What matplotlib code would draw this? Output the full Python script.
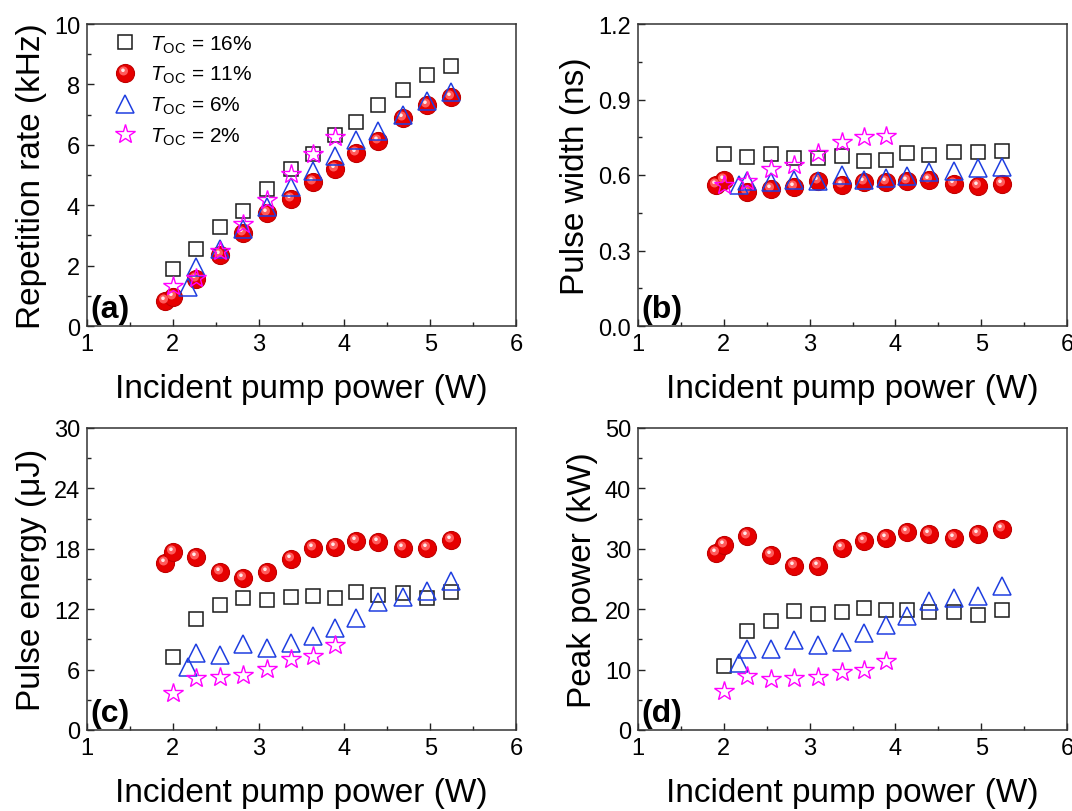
import numpy as np
import matplotlib
matplotlib.use("Agg")
import matplotlib.pyplot as plt
from matplotlib.path import Path
from matplotlib.legend_handler import HandlerTuple
from matplotlib.ticker import MultipleLocator, FormatStrFormatter

plt.rcParams['font.family'] = ['Liberation Sans', 'DejaVu Sans']
plt.rcParams['mathtext.fontset'] = 'custom'
plt.rcParams['mathtext.rm'] = 'Liberation Sans'
plt.rcParams['mathtext.it'] = 'Liberation Sans:italic'

# ---------------- data ----------------
x_16 = [2.00, 2.27, 2.55, 2.82, 3.10, 3.38, 3.63, 3.89, 4.13, 4.39, 4.68, 4.96, 5.24]
x_11 = [1.91, 2.00, 2.27, 2.55, 2.82, 3.10, 3.38, 3.63, 3.89, 4.13, 4.39, 4.68, 4.96, 5.24]
x_6 = [2.18, 2.27, 2.55, 2.82, 3.10, 3.38, 3.63, 3.89, 4.13, 4.39, 4.68, 4.96, 5.24]
x_2 = [2.00, 2.27, 2.55, 2.82, 3.10, 3.38, 3.63, 3.89]

rep_16 = [1.89, 2.56, 3.27, 3.80, 4.53, 5.20, 5.68, 6.31, 6.75, 7.33, 7.80, 8.32, 8.60]
rep_11 = [0.84, 0.95, 1.57, 2.34, 3.08, 3.75, 4.19, 4.76, 5.20, 5.73, 6.14, 6.88, 7.33, 7.57]
rep_6 = [1.28, 1.95, 2.54, 3.22, 3.94, 4.60, 5.12, 5.62, 6.17, 6.47, 6.99, 7.46, 7.76]
rep_2 = [1.31, 1.59, 2.50, 3.38, 4.18, 5.02, 5.68, 6.27]

pw_16 = [0.684, 0.671, 0.684, 0.668, 0.668, 0.677, 0.655, 0.660, 0.687, 0.680, 0.693, 0.690, 0.694]
pw_11 = [0.562, 0.581, 0.534, 0.544, 0.552, 0.575, 0.562, 0.574, 0.571, 0.577, 0.581, 0.565, 0.556, 0.565]
pw_6 = [0.561, 0.575, 0.571, 0.581, 0.578, 0.599, 0.579, 0.589, 0.595, 0.610, 0.614, 0.627, 0.630]
pw_2 = [0.561, 0.575, 0.622, 0.638, 0.687, 0.730, 0.750, 0.754]

pe_16 = [7.29, 11.0, 12.4, 13.1, 12.9, 13.26, 13.36, 13.1, 13.7, 13.46, 13.6, 13.1, 13.7]
pe_11 = [16.6, 17.7, 17.2, 15.7, 15.1, 15.7, 17.0, 18.07, 18.2, 18.8, 18.7, 18.07, 18.07, 18.9]
pe_6 = [6.23, 7.69, 7.49, 8.59, 8.12, 8.69, 9.35, 10.18, 11.1, 12.76, 13.26, 13.76, 14.8]
pe_2 = [3.65, 5.17, 5.24, 5.50, 6.07, 7.06, 7.39, 8.49]

pp_16 = [10.55, 16.4, 18.1, 19.7, 19.2, 19.6, 20.2, 19.9, 19.9, 19.6, 19.6, 19.1, 19.8]
pp_11 = [29.3, 30.7, 32.2, 28.9, 27.1, 27.2, 30.1, 31.3, 31.8, 32.7, 32.4, 31.8, 32.5, 33.3]
pp_6 = [11.05, 13.4, 13.4, 14.9, 14.1, 14.5, 16.1, 17.4, 18.9, 21.3, 21.8, 22.2, 23.8]
pp_2 = [6.4, 9.0, 8.45, 8.6, 8.84, 9.56, 9.94, 11.4]

labels = [r'$T_{\rm OC}$ = 16%', r'$T_{\rm OC}$ = 11%', r'$T_{\rm OC}$ = 6%', r'$T_{\rm OC}$ = 2%']
xlabel = 'Incident pump power (W)'
ylabels = ['Repetition rate (kHz)', 'Pulse width (ns)', 'Pulse energy (\u03bcJ)', 'Peak power (kW)']
panel_tags = ['(a)', '(b)', '(c)', '(d)']
ylims = [(0, 10), (0, 1.2), (0, 30), (0, 50)]
ymajor = [2, 0.3, 6, 10]

# ---------------- styling ----------------
def highlight_marker(cx, cy, r):
    c = Path.circle(center=(cx, cy), radius=r)
    verts = np.vstack([c.vertices, [[1, 1], [-1, -1]]])
    codes = np.concatenate([c.codes, [Path.MOVETO, Path.MOVETO]])
    return Path(verts, codes)

hl_mid = highlight_marker(-0.22, 0.28, 0.5)
hl_white = highlight_marker(-0.28, 0.36, 0.2)

BALL = 13

def ball_artists(ax, x, y):
    a1, = ax.plot(x, y, ls='none', marker='o', ms=BALL, mfc='#e60000', mec='#c00000', mew=0.8, zorder=3)
    a2, = ax.plot(x, y, ls='none', marker=hl_mid, ms=BALL, mfc='#ff5a5a', mec='none', zorder=3.1)
    a3, = ax.plot(x, y, ls='none', marker=hl_white, ms=BALL, mfc='#ffe8e8', mec='none', zorder=3.2)
    return (a1, a2, a3)

W, H = 1072, 812
fig = plt.figure(figsize=(W / 100, H / 100), dpi=100)

boxes = [(87, 25), (638, 25), (87, 429), (638, 429)]
aw, ah = 429, 302

series = [
    (rep_16, rep_11, rep_6, rep_2),
    (pw_16, pw_11, pw_6, pw_2),
    (pe_16, pe_11, pe_6, pe_2),
    (pp_16, pp_11, pp_6, pp_2),
]

for i, ((left, top), (s16, s11, s6, s2)) in enumerate(zip(boxes, series)):
    ax = fig.add_axes([left / W, (H - top - ah) / H, aw / W, ah / H])
    h16, = ax.plot(x_16, s16, ls='none', marker='s', ms=10.5, mfc='none', mec='#1a1a1a', mew=1.1, zorder=2)
    hb = ball_artists(ax, x_11, s11)
    h6, = ax.plot(x_6, s6, ls='none', marker='^', ms=13, mfc='none', mec='#1f3fe0', mew=1.1, zorder=4)
    h2, = ax.plot(x_2, s2, ls='none', marker='*', ms=15, mfc='none', mec='#ff00ff', mew=1.0, zorder=5)

    ax.set_xlim(1, 6)
    ax.set_ylim(*ylims[i])
    ax.xaxis.set_major_locator(MultipleLocator(1))
    ax.xaxis.set_minor_locator(MultipleLocator(0.5))
    ax.yaxis.set_major_locator(MultipleLocator(ymajor[i]))
    ax.yaxis.set_minor_locator(MultipleLocator(ymajor[i] / 2))
    if i == 1:
        ax.yaxis.set_major_formatter(FormatStrFormatter('%.1f'))
    ax.tick_params(which='both', direction='in', top=False, right=False, labelsize=17,
                   width=1, colors='#222222', labelcolor='black')
    ax.tick_params(which='major', length=5, pad=5)
    ax.tick_params(which='minor', length=3)
    for sp in ax.spines.values():
        sp.set_linewidth(1.1)
        sp.set_color('#333333')
    ax.set_xlabel(xlabel, fontsize=24, labelpad=13)
    ax.set_ylabel(ylabels[i], fontsize=24, labelpad=5)
    ax.text(0.007, 0.005, panel_tags[i], transform=ax.transAxes, fontsize=23,
            fontweight='bold', ha='left', va='bottom')
    if i == 0:
        ax.legend([h16, hb, h6, h2], labels, handler_map={tuple: HandlerTuple(ndivide=1)},
                  loc='upper left', frameon=False, fontsize=15, borderaxespad=0.2,
                  handletextpad=0.4, labelspacing=0.45, handlelength=1.6,
                  bbox_to_anchor=(0.02, 1.01))

fig.savefig('out.png', dpi=100)
